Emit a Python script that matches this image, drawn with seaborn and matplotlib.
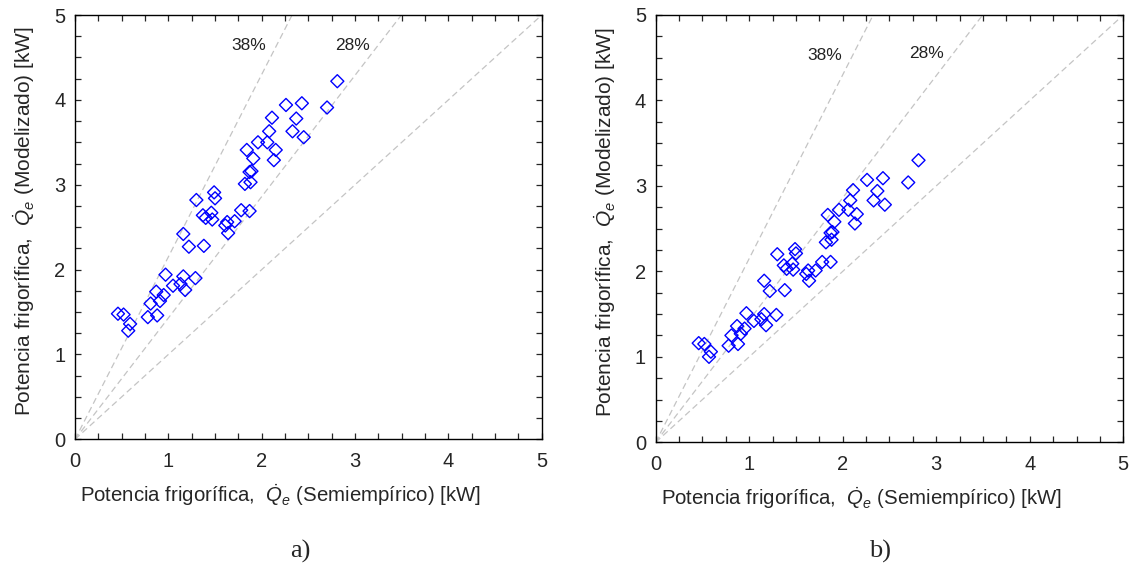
import numpy as np
import pandas as pd
import matplotlib
matplotlib.use("Agg")
import matplotlib.pyplot as plt
import seaborn as sns

# ---- data ----
x_semi = [2.81, 2.70, 2.26, 2.43, 2.11, 2.37, 2.08, 2.33, 2.45, 1.96,
          2.06, 1.84, 2.15, 1.91, 2.13, 1.89, 1.87, 1.82, 1.88, 1.49,
          1.50, 1.30, 1.37, 1.46, 1.40, 1.47, 1.78, 1.87, 1.63, 1.71,
          1.61, 1.64, 1.16, 1.22, 1.38, 0.97, 1.16, 1.29, 1.05, 1.13,
          1.18, 0.87, 0.95, 0.91, 0.81, 0.46, 0.52, 0.78, 0.88, 0.59,
          0.57]
y_mod_a = [4.22, 3.91, 3.94, 3.96, 3.79, 3.78, 3.63, 3.63, 3.56, 3.50,
           3.50, 3.41, 3.41, 3.31, 3.29, 3.16, 3.15, 3.01, 3.03, 2.91,
           2.84, 2.82, 2.64, 2.67, 2.61, 2.59, 2.70, 2.69, 2.56, 2.57,
           2.52, 2.43, 2.42, 2.27, 2.28, 1.94, 1.92, 1.90, 1.81, 1.83,
           1.76, 1.74, 1.70, 1.63, 1.60, 1.48, 1.47, 1.44, 1.46, 1.36,
           1.28]
y_mod_b = [3.30, 3.04, 3.07, 3.09, 2.95, 2.94, 2.83, 2.83, 2.78, 2.72,
           2.72, 2.66, 2.67, 2.58, 2.56, 2.46, 2.45, 2.34, 2.37, 2.26,
           2.21, 2.20, 2.07, 2.09, 2.03, 2.02, 2.11, 2.11, 2.01, 2.01,
           1.97, 1.89, 1.89, 1.77, 1.78, 1.51, 1.50, 1.49, 1.42, 1.44,
           1.37, 1.36, 1.33, 1.27, 1.25, 1.16, 1.15, 1.13, 1.15, 1.06,
           1.00]

ref_slopes = [1.0, 1.43, 2.15]
ticks = [0, 1, 2, 3, 4, 5]
panel_names = ["a)", "b)"]

# ---- style ----
sns.set_style("ticks")
plt.rcParams["font.family"] = ["Liberation Sans", "DejaVu Sans"]
plt.rcParams["mathtext.fontset"] = "custom"
plt.rcParams["mathtext.rm"] = "Liberation Sans"
plt.rcParams["mathtext.it"] = "Liberation Sans:italic"

fig = plt.figure(figsize=(11.35, 5.69), dpi=100)
axes = [fig.add_axes([0.0661, 0.2279, 0.4112, 0.7457]),
        fig.add_axes([0.5777, 0.2227, 0.4120, 0.7510])]

label_pos = [
    {"38%": (1.86, 4.64), "28%": (2.97, 4.64)},
    {"38%": (1.81, 4.53), "28%": (2.90, 4.55)},
]
panel_label_xy = [(0.2643, 0.030), (0.7757, 0.030)]

for i, (ax, ys) in enumerate(zip(axes, [y_mod_a, y_mod_b])):
    line_x = np.array([0.0, 5.0])
    for s in ref_slopes:
        ldf = pd.DataFrame({"x": line_x, "y": line_x * s})
        sns.lineplot(data=ldf, x="x", y="y", ax=ax, color="#c4c4c4",
                     linestyle=(0, (5, 3)), linewidth=0.9, zorder=1)
    df = pd.DataFrame({"x": x_semi, "y": ys})
    sns.scatterplot(data=df, x="x", y="y", ax=ax, marker="D", s=44,
                    facecolor="none", edgecolor="#0000ff", linewidth=1.0,
                    zorder=3)
    for lab, (tx, ty) in label_pos[i].items():
        ax.text(tx, ty, lab, fontsize=12.5, ha="center", va="center",
                color="#222222")
    ax.set_xlim(0, 5)
    ax.set_ylim(0, 5)
    ax.set_xticks(ticks)
    ax.set_yticks(ticks)
    ax.set_xticks(np.arange(0, 5.01, 0.25), minor=True)
    ax.set_yticks(np.arange(0, 5.01, 0.25), minor=True)
    ax.tick_params(which="both", direction="in", top=True, right=True,
                   length=4, width=0.9, labelsize=14.5)
    ax.tick_params(axis="x", which="both", pad=9)
    ax.tick_params(axis="y", which="both", pad=7)
    for sp in ax.spines.values():
        sp.set_linewidth(1.0)
        sp.set_color("black")
    ax.set_xlabel(r"Potencia frigorífica,  $\dot{Q}_e$ (Semiempírico) [kW]",
                  fontsize=14.7)
    ax.set_ylabel(r"Potencia frigorífica,  $\dot{Q}_e$ (Modelizado) [kW]",
                  fontsize=15)
    ax.xaxis.set_label_coords(0.44, -0.10)
    ax.yaxis.set_label_coords(-0.081, 0.515)
    fig.text(panel_label_xy[i][0], panel_label_xy[i][1], panel_names[i],
             fontsize=19, family="Liberation Serif", ha="center",
             va="center")

fig.savefig("out.png", dpi=100)
